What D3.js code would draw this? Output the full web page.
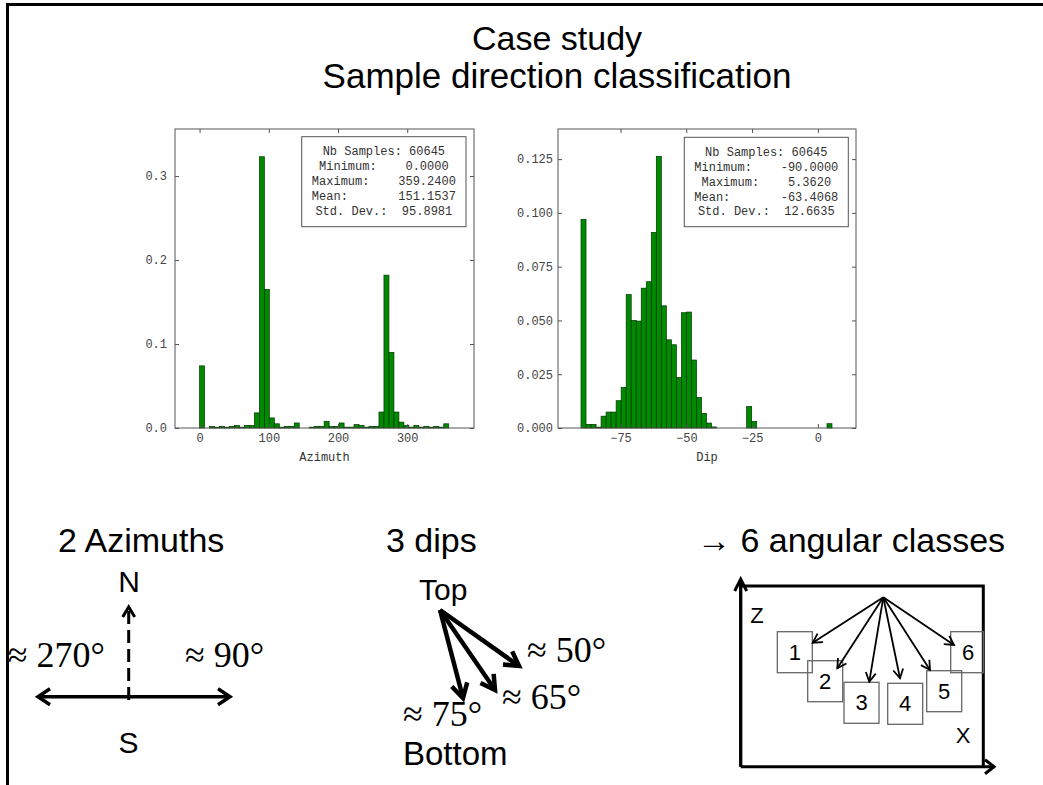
<!DOCTYPE html>
<html>
<head>
<meta charset="utf-8">
<script src="https://cdn.jsdelivr.net/npm/d3@7"></script>
<style>
  body { margin: 0; background: #fff; }
  svg { display: block; }
  .mono { font-family: "Liberation Mono", "DejaVu Sans Mono", monospace; }
  .sans { font-family: "Liberation Sans", Arial, sans-serif; }
  .serif { font-family: "Liberation Serif", "Times New Roman", serif; }
</style>
</head>
<body>
<svg id="slide" width="1043" height="785"></svg>
<script>
// ---- data (50 bins each) ----
const azimuthDensity = [
  0.074, 0.000, 0.002, 0.001, 0.002, 0.001, 0.002, 0.003, 0.001, 0.003,
  0.003, 0.018, 0.323, 0.165, 0.012, 0.005, 0.001, 0.002, 0.002, 0.006,
  0.000, 0.000, 0.001, 0.002, 0.002, 0.008, 0.002, 0.002, 0.006, 0.001,
  0.001, 0.004, 0.003, 0.001, 0.002, 0.002, 0.019, 0.182, 0.090, 0.019,
  0.007, 0.003, 0.001, 0.003, 0.001, 0.002, 0.001, 0.002, 0.001, 0.005
];
const dipDensity = [
  0.0970, 0.0017, 0.0017, 0.0004, 0.0055, 0.0074, 0.0074, 0.0127, 0.0189, 0.0620,
  0.0500, 0.0497, 0.0650, 0.0680, 0.0909, 0.1263, 0.0568, 0.0410, 0.0387, 0.0235,
  0.0536, 0.0539, 0.0316, 0.0142, 0.0068, 0.0023, 0.0005, 0, 0, 0,
  0, 0, 0, 0.0100, 0.0030, 0, 0, 0, 0, 0,
  0, 0, 0, 0, 0, 0, 0, 0, 0, 0.0020
];
const azimuthRange = [0, 360];
const dipRange = [-90, 5.362];
const azimuthXTicks = [0, 100, 200, 300];
const azimuthYTicks = [0, 0.1, 0.2, 0.3];
const dipXTicks = [-75, -50, -25, 0];
const dipYTicks = [0, 0.025, 0.05, 0.075, 0.1, 0.125];
const azimuthStats = [
  "Nb Samples: 60645",
  "Minimum:    0.0000",
  "Maximum:    359.2400",
  "Mean:       151.1537",
  "Std. Dev.:  95.8981"
];
const dipStats = [
  "Nb Samples: 60645",
  "Minimum:    -90.0000",
  "Maximum:    5.3620",
  "Mean:       -63.4068",
  "Std. Dev.:  12.6635"
];
const titleLines = ["Case study", "Sample direction classification"];
const azimuthLabels = ["\u2248 270\u00b0", "\u2248 90\u00b0"];
const dipLabels = ["\u2248 50\u00b0", "\u2248 65\u00b0", "\u2248 75\u00b0"];
const classIds = [1, 2, 3, 4, 5, 6];

const svg = d3.select("#slide");

// ---- title ----
svg.selectAll("text.title").data(titleLines).enter()
  .append("text").attr("class", "title sans")
  .attr("x", 557).attr("y", (d, i) => 50 + i * 38)
  .attr("text-anchor", "middle").attr("font-size", (d, i) => i ? 35 : 34)
  .text(d => d);

// ---- histograms ----
drawHistogram({
  values: azimuthDensity, range: azimuthRange,
  left: 175, right: 474, top: 129, bottom: 428,
  xDomain: [-35.5, 396.5], yDomain: [0, 0.356],
  xTicks: azimuthXTicks, yTicks: azimuthYTicks, yFormat: d3.format(".1f"),
  yPad: 8, title: "Azimuth", stats: azimuthStats,
  box: { x: 301.7, y: 136.7, w: 164.3, h: 90 }
});
drawHistogram({
  values: dipDensity, range: dipRange,
  left: 558, right: 856, top: 129, bottom: 428,
  xDomain: [-98.74, 14.48], yDomain: [0, 0.139],
  xTicks: dipXTicks, yTicks: dipYTicks, yFormat: d3.format(".3f"),
  yPad: 5, title: "Dip", stats: dipStats,
  box: { x: 684.3, y: 137.3, w: 164, h: 89.4 }
});

function drawHistogram(o) {
  const g = svg.append("g");
  const x = d3.scaleLinear().domain(o.xDomain).range([o.left, o.right]);
  const y = d3.scaleLinear().domain(o.yDomain).range([o.bottom, o.top]);
  const bw = (o.range[1] - o.range[0]) / o.values.length;

  g.selectAll("rect.bar").data(o.values).enter()
    .append("rect").attr("class", "bar")
    .attr("x", (d, i) => x(o.range[0] + i * bw))
    .attr("width", x(o.range[0] + bw) - x(o.range[0]))
    .attr("y", d => y(d))
    .attr("height", d => y(0) - y(d))
    .attr("fill", "#008a00")
    .attr("stroke", "#003300")
    .attr("stroke-width", 0.7);

  // axes (ticks pointing inward, frame drawn separately)
  const axes = [
    { a: d3.axisBottom(x).tickValues(o.xTicks).tickPadding(5), t: `translate(0,${o.bottom})` },
    { a: d3.axisTop(x).tickValues(o.xTicks).tickFormat(""), t: `translate(0,${o.top})` },
    { a: d3.axisLeft(y).tickValues(o.yTicks).tickFormat(o.yFormat).tickPadding(o.yPad), t: `translate(${o.left},0)` },
    { a: d3.axisRight(y).tickValues(o.yTicks).tickFormat(""), t: `translate(${o.right},0)` }
  ];
  axes.forEach(ax => {
    const s = g.append("g").attr("transform", ax.t)
      .call(ax.a.tickSizeInner(-4).tickSizeOuter(0));
    s.select(".domain").remove();
    s.selectAll("line").attr("stroke", "#555");
    s.selectAll("text").attr("class", "mono").attr("font-size", 12).attr("fill", "#444");
  });

  g.append("rect")
    .attr("x", o.left).attr("y", o.top)
    .attr("width", o.right - o.left).attr("height", o.bottom - o.top)
    .attr("fill", "none").attr("stroke", "#555").attr("stroke-width", 1);

  g.append("text").attr("class", "mono")
    .attr("x", (o.left + o.right) / 2).attr("y", 461)
    .attr("text-anchor", "middle").attr("font-size", 12).attr("fill", "#333")
    .text(o.title);

  // statistics box
  g.append("rect")
    .attr("x", o.box.x).attr("y", o.box.y)
    .attr("width", o.box.w).attr("height", o.box.h)
    .attr("fill", "#fff").attr("stroke", "#555").attr("stroke-width", 1);
  g.selectAll("text.stat").data(o.stats).enter()
    .append("text").attr("class", "stat mono")
    .attr("x", o.box.x + o.box.w / 2)
    .attr("y", (d, i) => o.box.y + 18.5 + i * 14.9)
    .attr("text-anchor", "middle").attr("font-size", 12).attr("fill", "#333")
    .style("white-space", "pre")
    .text(d => d);
}

// ---- helpers for the schematic diagrams ----
function chevron(g, tx, ty, angle, back, half, width) {
  const cx = tx - back * Math.cos(angle), cy = ty - back * Math.sin(angle);
  const nx = -Math.sin(angle) * half, ny = Math.cos(angle) * half;
  g.append("path")
    .attr("d", `M${cx + nx},${cy + ny}L${tx},${ty}L${cx - nx},${cy - ny}`)
    .attr("fill", "none").attr("stroke", "#000").attr("stroke-width", width)
    .attr("stroke-linejoin", "miter").attr("stroke-linecap", "butt");
}
function arrow(g, x1, y1, x2, y2, width, back, half, opts = {}) {
  g.append("line")
    .attr("x1", x1).attr("y1", y1).attr("x2", x2).attr("y2", y2)
    .attr("stroke", "#000").attr("stroke-width", width)
    .attr("stroke-dasharray", opts.dash || null);
  chevron(g, x2, y2, Math.atan2(y2 - y1, x2 - x1), back, half, width);
  if (opts.both) chevron(g, x1, y1, Math.atan2(y1 - y2, x1 - x2), back, half, width);
}
function label(g, cls, x, y, size, txt, anchor) {
  g.append("text").attr("class", cls)
    .attr("x", x).attr("y", y).attr("font-size", size)
    .attr("text-anchor", anchor || "start").text(txt);
}

// ---- 2 azimuths ----
const az = svg.append("g");
label(az, "sans", 58, 552, 34, "2 Azimuths");
label(az, "sans", 129, 592, 30, "N", "middle");
label(az, "sans", 128.5, 753, 30, "S", "middle");
arrow(az, 128.7, 700, 128.7, 607, 3, 10, 6, { dash: "13,6" });
arrow(az, 38, 696.7, 230, 696.7, 3.5, 12, 8, { both: true });
label(az, "serif", 105, 667, 36, azimuthLabels[0], "end");
label(az, "serif", 185, 667, 36, azimuthLabels[1]);

// ---- 3 dips ----
const dp = svg.append("g");
label(dp, "sans", 386, 552, 34, "3 dips");
label(dp, "sans", 419, 600, 30, "Top");
label(dp, "sans", 403, 765, 33, "Bottom");
const dipTips = [[519, 666], [495, 690], [463, 698]];
dipTips.forEach(t => arrow(dp, 440, 610, t[0], t[1], 4.5, 14, 8));
const dipLabelPos = [[527, 662], [502, 709], [403, 726]];
dipLabels.forEach((d, i) => label(dp, "serif", dipLabelPos[i][0], dipLabelPos[i][1], 36, d));

// ---- 6 angular classes ----
const cl = svg.append("g");
label(cl, "sans", 697, 552, 34, "\u2192 6 angular classes");
cl.append("path")
  .attr("d", "M740.7,766.7V586H983.3V766.7")
  .attr("fill", "none").attr("stroke", "#000").attr("stroke-width", 3);
arrow(cl, 740.7, 766.7, 740.7, 579, 3, 12, 6);
arrow(cl, 740.7, 766.7, 994, 766.7, 3, 9, 7);
label(cl, "sans", 757, 623, 22, "Z", "middle");
label(cl, "sans", 963, 743, 22, "X", "middle");

const boxPos = [[777.3, 631.7], [807.7, 660.7], [844, 682.3], [887.7, 683.3], [926.7, 670.7], [950.7, 631.7]];
const boxTips = [[812.7, 642.7], [837.3, 668.3], [869.3, 681.7], [900, 678.3], [930, 670], [954, 645]];
const boxes = cl.selectAll("g.cls").data(classIds).enter().append("g").attr("class", "cls");
boxes.append("rect")
  .attr("x", (d, i) => boxPos[i][0]).attr("y", (d, i) => boxPos[i][1])
  .attr("width", (d, i) => i === 5 ? 32.6 : 35).attr("height", 41)
  .attr("fill", "none").attr("stroke", "#666").attr("stroke-width", 1.3);
boxes.append("text").attr("class", "sans")
  .attr("x", (d, i) => boxPos[i][0] + 17.5).attr("y", (d, i) => boxPos[i][1] + 28)
  .attr("text-anchor", "middle").attr("font-size", 22)
  .text(d => d);
boxTips.forEach(t => arrow(cl, 883.3, 597.3, t[0], t[1], 1.8, 9, 5));

// ---- slide frame (left and top edges only) ----
svg.append("rect").attr("x", 0).attr("y", 0).attr("width", 7).attr("height", 785).attr("fill", "#fff");
svg.append("path")
  .attr("d", "M7.5,785V4.5H1043")
  .attr("fill", "none").attr("stroke", "#000").attr("stroke-width", 3);
</script>
</body>
</html>
